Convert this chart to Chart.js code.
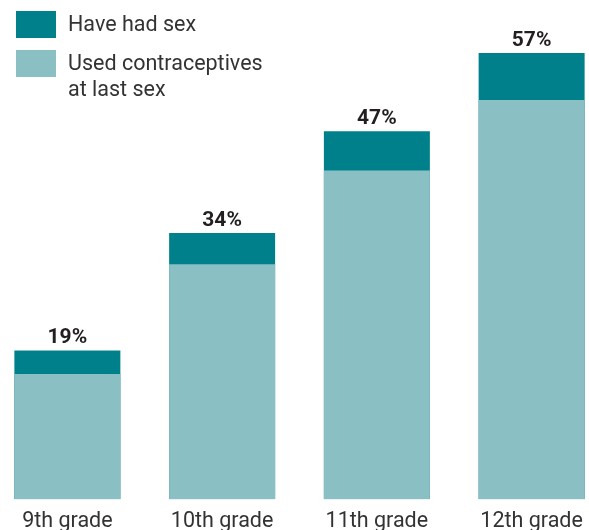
<!DOCTYPE html>
<html>
<head>
<meta charset="utf-8">
<script src="https://cdn.jsdelivr.net/npm/chart.js@4.4.1/dist/chart.umd.min.js"></script>
<style>
  html, body { margin: 0; padding: 0; background: #fff; overflow: hidden; width: 589px; height: 530px; }
  #wrap { position: absolute; left: -10px; top: 0; width: 619px; height: 545px; }
  #legend { position: absolute; left: 16px; top: 11px; font-family: Roboto, sans-serif; font-size: 21.5px; line-height: 26px; color: #333; }
  .item { position: relative; padding-left: 52px; width: 215px; }
  .sw { position: absolute; left: 0; width: 40px; height: 27px; }
</style>
</head>
<body>
<div id="wrap"><canvas id="c"></canvas></div>
<div id="legend"></div>
<script>
const categories = ['9th grade', '10th grade', '11th grade', '12th grade'];
const haveHadSex = [19, 34, 47, 57];
const usedContraceptives = [16, 30, 42, 51];
const seriesLabels = ['Have had sex', 'Used contraceptives at last sex'];
const colors = ['#00808b', '#8abfc4'];

const valueLabels = {
  id: 'valueLabels',
  afterDatasetsDraw(chart) {
    const ctx = chart.ctx;
    const meta = chart.getDatasetMeta(0);
    ctx.save();
    ctx.font = 'bold 21px Roboto, sans-serif';
    ctx.fillStyle = '#231f20';
    ctx.textAlign = 'center';
    ctx.textBaseline = 'alphabetic';
    meta.data.forEach((el, i) => {
      ctx.fillText(chart.data.datasets[0].data[i] + '%', el.x, el.y - 7);
    });
    ctx.restore();
  }
};

const chart = new Chart(document.getElementById('c'), {
  type: 'bar',
  data: {
    labels: categories,
    datasets: [
      { label: seriesLabels[0], data: haveHadSex, backgroundColor: colors[0], order: 1 },
      { label: seriesLabels[1], data: usedContraceptives, backgroundColor: colors[1], order: 0 }
    ]
  },
  options: {
    responsive: true,
    maintainAspectRatio: false,
    devicePixelRatio: 1,
    animation: false,
    layout: { padding: { top: 29.5, left: 0, right: 0, bottom: 0 } },
    datasets: { bar: { grouped: false, categoryPercentage: 1, barPercentage: 0.685, borderWidth: 0 } },
    plugins: { legend: { display: false }, tooltip: { enabled: false } },
    scales: {
      x: {
        grid: { display: false, drawTicks: false },
        border: { display: false },
        ticks: { color: '#333', padding: 10, font: { family: 'Roboto', size: 21.5 } }
      },
      y: { display: false, min: 0, max: 60 }
    }
  },
  plugins: [valueLabels]
});

const lg = document.getElementById('legend');
chart.data.datasets.forEach((ds, i) => {
  const d = document.createElement('div');
  d.className = 'item';
  d.style.marginBottom = i === 0 ? '13px' : '0';
  const sw = document.createElement('span');
  sw.className = 'sw';
  sw.style.background = ds.backgroundColor;
  sw.style.top = '0px';
  d.appendChild(sw);
  d.appendChild(document.createTextNode(ds.label));
  lg.appendChild(d);
});
</script>
</body>
</html>
